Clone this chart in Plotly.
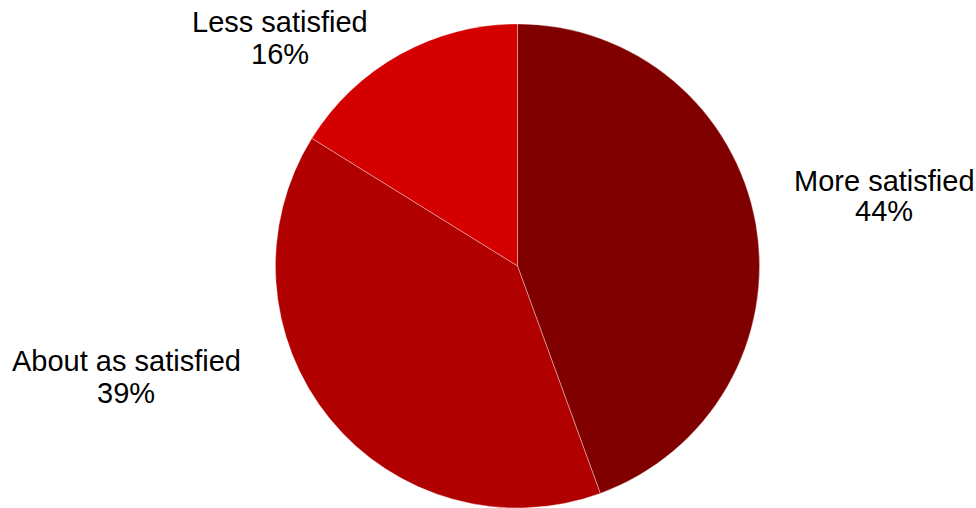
import plotly.graph_objects as go

categories = ["More satisfied", "About as satisfied", "Less satisfied"]
shares = [44, 39, 16]
colors = ["#800000", "#B00000", "#D40000"]

# label placement (paper coords): category line and percentage line
label_pos = {
    "More satisfied": (884 / 976, 1 - 181 / 508, 1 - 211 / 508),
    "About as satisfied": (126 / 976, 1 - 361 / 508, 1 - 393 / 508),
    "Less satisfied": (280 / 976, 1 - 22 / 508, 1 - 54 / 508),
}

fig = go.Figure(
    go.Pie(
        labels=categories,
        values=shares,
        sort=False,
        direction="clockwise",
        rotation=0,
        textinfo="none",
        marker=dict(colors=colors, line=dict(color="rgba(255,255,255,0.35)", width=1)),
        domain=dict(x=[275 / 976, 760 / 976], y=[0.0, 0.953]),
        showlegend=False,
        hoverinfo="label+value",
    )
)

font = dict(family="Liberation Sans, Arial, sans-serif", size=29, color="#000000")
annotations = []
for cat, val in zip(categories, shares):
    x, y1, y2 = label_pos[cat]
    annotations.append(dict(x=x, y=y1, xref="paper", yref="paper", text=cat,
                            showarrow=False, xanchor="center", yanchor="middle", font=font))
    annotations.append(dict(x=x, y=y2, xref="paper", yref="paper", text=f"{val}%",
                            showarrow=False, xanchor="center", yanchor="middle", font=font))

fig.update_layout(
    width=976,
    height=508,
    margin=dict(l=0, r=0, t=0, b=0),
    paper_bgcolor="white",
    plot_bgcolor="white",
    annotations=annotations,
)

fig.write_html("out.html")
